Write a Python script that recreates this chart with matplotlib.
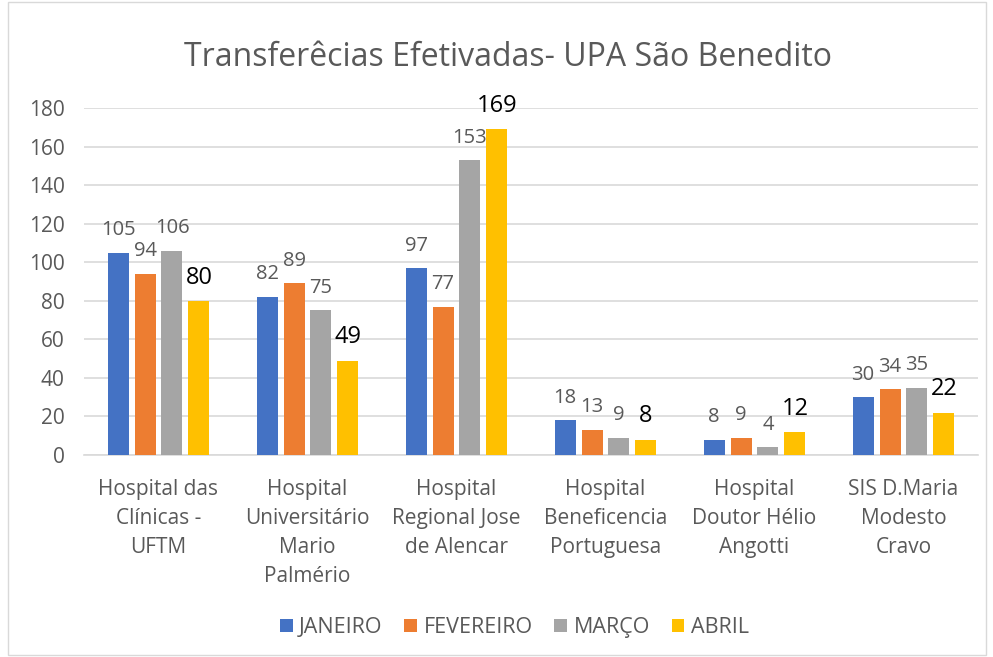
import matplotlib.pyplot as plt
import numpy as np

# Data
hospitais = ["Hospital das\nClínicas -\nUFTM", "Hospital\nUniversitário\nMario\nPalmério",
             "Hospital\nRegional Jose\nde Alencar", "Hospital\nBeneficencia\nPortuguesa",
             "Hospital\nDoutor Hélio\nAngotti", "SIS D.Maria\nModesto\nCravo"]
janeiro = [105, 82, 97, 18, 8, 30]
fevereiro = [94, 89, 77, 13, 9, 34]
marco = [106, 75, 153, 9, 4, 35]
abril = [80, 49, 169, 8, 12, 22]

meses = ["JANEIRO", "FEVEREIRO", "MARÇO", "ABRIL"]
series = [janeiro, fevereiro, marco, abril]
cores = ["#4472C4", "#ED7D31", "#A5A5A5", "#FFC000"]

plt.rcParams['font.family'] = ['Open Sans', 'DejaVu Sans']
texto = "#595959"

fig = plt.figure(figsize=(9.93, 6.57), dpi=100)
ax = fig.add_axes([84/993, (657-455)/657, (978-84)/993, (455-108)/657])

x = np.arange(len(hospitais))
passo = 0.181
larg = 0.141
for i, (nome, vals, cor) in enumerate(zip(meses, series, cores)):
    pos = x + (i - 1.5) * passo
    barras = ax.bar(pos, vals, larg, color=cor, label=nome, zorder=3)
    if nome == "ABRIL":
        ax.bar_label(barras, padding=8, fontsize=17, color="black")
    else:
        ax.bar_label(barras, padding=9, fontsize=14.5, color=texto)

ax.set_xlim(-0.5, len(hospitais) - 0.5)
ax.set_ylim(0, 180)
ax.set_yticks(range(0, 181, 20))
ax.yaxis.grid(True, color="#D9D9D9", linewidth=1.2, zorder=0)
for s in ["top", "right", "left"]:
    ax.spines[s].set_visible(False)
ax.spines["bottom"].set_color("#D9D9D9")
ax.spines["bottom"].set_linewidth(1.2)
ax.tick_params(axis="both", length=0, labelsize=15, labelcolor=texto)
ax.tick_params(axis="x", pad=17)
ax.tick_params(axis="y", pad=14)
ax.set_xticks(x)
ax.set_xticklabels(hospitais, linespacing=1.5)

fig.text(0.512, 0.912, "Transferêcias Efetivadas- UPA São Benedito", ha="center", va="center",
         fontsize=23, color=texto)

fig.legend(loc="center", bbox_to_anchor=(0.518, 0.045), ncol=4, frameon=False, fontsize=15.5,
           handlelength=0.6, handleheight=0.6, handletextpad=0.3, columnspacing=1.0,
           labelcolor=texto)

fig.patches.append(plt.Rectangle((0.008, 0.003), 0.985, 0.994, transform=fig.transFigure,
                                 fill=False, edgecolor="#D9D9D9", linewidth=1))

fig.savefig("out.png", dpi=100)
